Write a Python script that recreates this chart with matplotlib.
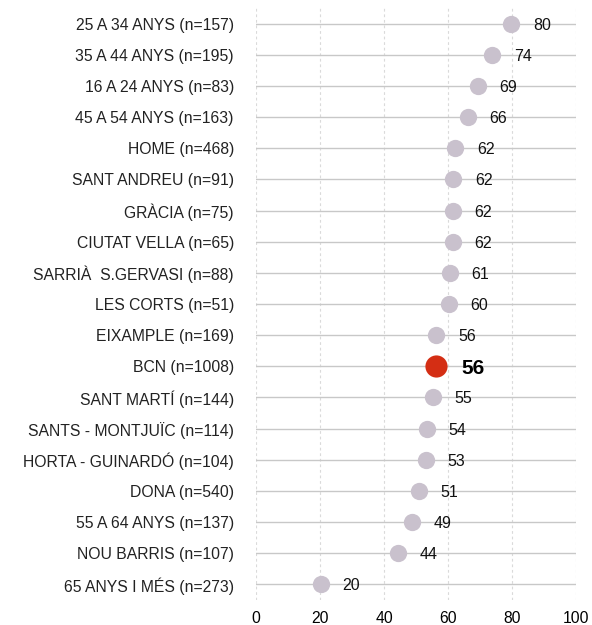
import matplotlib
matplotlib.use('Agg')
import matplotlib.pyplot as plt

plt.rcParams['font.family'] = ['Liberation Sans', 'DejaVu Sans']

# categories top to bottom
labels = ['25 A 34 ANYS (n=157)', '35 A 44 ANYS (n=195)', '16 A 24 ANYS (n=83)',
          '45 A 54 ANYS (n=163)', 'HOME (n=468)', 'SANT ANDREU (n=91)',
          'GRÀCIA (n=75)', 'CIUTAT VELLA (n=65)', 'SARRIÀ  S.GERVASI (n=88)',
          'LES CORTS (n=51)', 'EIXAMPLE (n=169)', 'BCN (n=1008)',
          'SANT MARTÍ (n=144)', 'SANTS - MONTJUÏC (n=114)', 'HORTA - GUINARDÓ (n=104)',
          'DONA (n=540)', '55 A 64 ANYS (n=137)', 'NOU BARRIS (n=107)',
          '65 ANYS I MÉS (n=273)']
values = [79.7, 73.8, 69.3, 66.2, 62.2, 61.6, 61.5, 61.5, 60.6, 60.3,
          56.3, 56.2, 55.3, 53.4, 53.1, 50.9, 48.8, 44.4, 20.3]
shown = [80, 74, 69, 66, 62, 62, 62, 62, 61, 60, 56, 56, 55, 54, 53, 51, 49, 44, 20]
highlight = 'BCN (n=1008)'

fig = plt.figure(figsize=(5.92, 6.25), dpi=100)
ax = fig.add_axes([256/592, 1 - 600/625, 320/592, 592/625])

ypos = list(range(len(labels)))
for y in ypos:
    ax.axhline(y, color='#c8c8c8', lw=1, zorder=1)
for x in [0, 20, 40, 60, 80, 100]:
    ax.axvline(x, color='#dadada', lw=0.8, ls=(0, (2.5, 2.5)), zorder=0)

for y, v, s, lab in zip(ypos, values, shown, labels):
    if lab == highlight:
        ax.scatter(v, y, s=255, color='#d42e14', zorder=3, linewidths=0)
        ax.text(v + 8.0, y, str(s), va='center_baseline', ha='left', fontsize=15,
                fontweight='bold', color='black')
    else:
        ax.scatter(v, y, s=155, color='#c9c1cd', zorder=3, linewidths=0)
        ax.text(v + 6.8, y, str(s), va='center_baseline', ha='left', fontsize=11.5,
                color='#111111')

ax.set_xlim(0, 100)
ax.set_ylim(len(labels) - 0.5, -0.5)
ax.set_yticks(ypos)
ax.set_yticklabels(labels, fontsize=11.3, color='#222222')
ax.set_xticks([0, 20, 40, 60, 80, 100])
ax.tick_params(axis='both', length=0, labelsize=11.3)
ax.tick_params(axis='y', pad=16)
ax.tick_params(axis='x', pad=8)
for sp in ax.spines.values():
    sp.set_visible(False)

fig.savefig('out.png', dpi=100)
